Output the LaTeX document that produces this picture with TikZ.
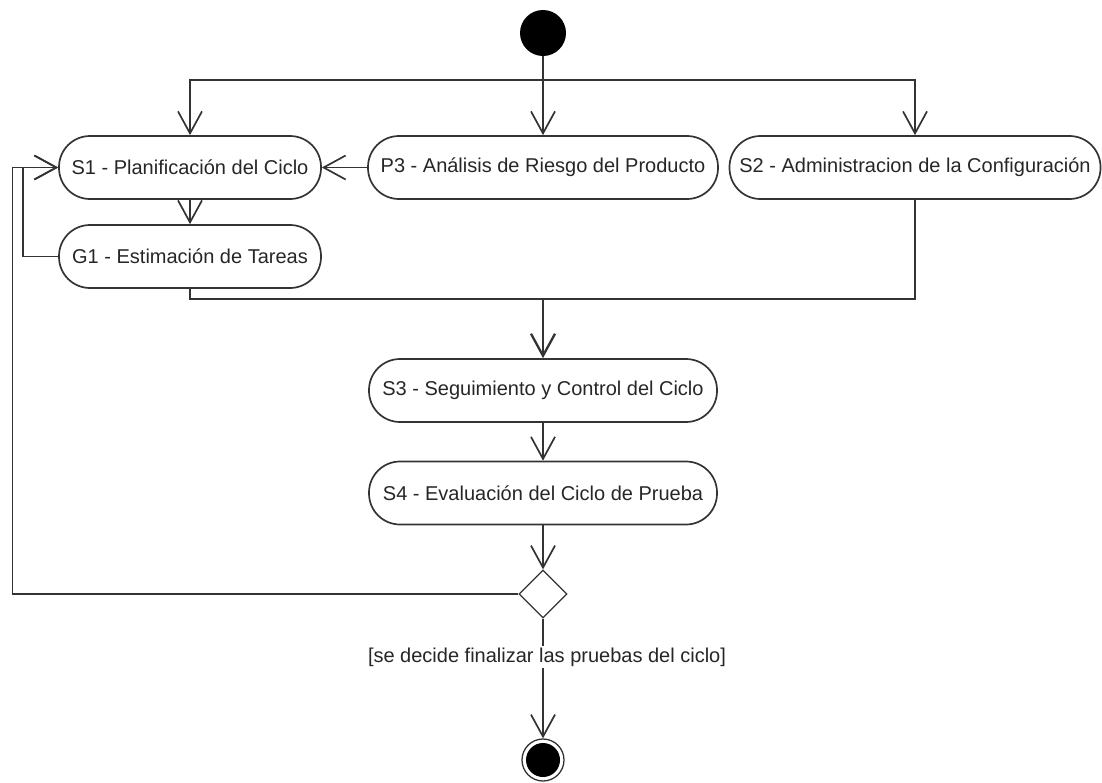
\documentclass[tikz,border=0pt]{standalone}
\usepackage{fontspec}
\setmainfont{Liberation Sans}
\usetikzlibrary{arrows.meta,shapes.geometric}
\begin{document}
\begin{tikzpicture}[x=1pt,y=-1pt,
  ink/.style={draw=black!80, line width=1.7pt},
  act/.style={ink, rectangle, rounded corners=31pt, minimum height=63pt,
    inner sep=0pt, font=\fontsize{20}{24}\selectfont, text=black!85},
  flow/.style={ink, -{Straight Barb[length=22pt,width=24pt]}},
  guard/.style={fill=white, inner sep=2pt, font=\fontsize{20}{24}\selectfont, text=black!85}
  ]
\useasboundingbox (0,0) rectangle (1102,782);

% initial and final states
\node[circle, fill=black, minimum size=46pt, inner sep=0pt] (start) at (543,33) {};
\node[circle, ink, line width=1.3pt, minimum size=42pt, inner sep=0pt] (stop) at (543,760) {};
\fill[black] (stop.center) circle[radius=17pt];

% activities
\node[act, minimum width=262pt] (s1) at (190,167.5) {S1 - Planificación del Ciclo};
\node[act, minimum width=350pt] (p3) at (543,167.5) {P3 - Análisis de Riesgo del Producto};
\node[act, minimum width=371pt] (s2) at (915,167.5) {S2 - Administracion de la Configuración};
\node[act, minimum width=262pt] (g1) at (190,256.5) {G1 - Estimación de Tareas};
\node[act, minimum width=348pt] (s3) at (543,390.5) {S3 - Seguimiento y Control del Ciclo};
\node[act, minimum width=348pt] (s4) at (543,493) {S4 - Evaluación del Ciclo de Prueba};

% decision
\node[diamond, ink, line width=1.3pt, minimum width=48pt, minimum height=48pt,
  inner sep=0pt] (dec) at (543,594) {};

% fork from the initial state
\coordinate (fork) at (543,80);
\draw[ink] (start) -- (fork);
\draw[flow] (fork) -| (s1.north);
\draw[flow] (fork) -- (p3.north);
\draw[flow] (fork) -| (s2.north);

% planning group
\draw[flow] (p3.west) -- (s1.east);
\draw[flow] (s1.south) -- (g1.north);
\draw[flow] (g1.west) -- ++(-35,0) |- (s1.west);

% join into follow-up
\coordinate (join) at (543,299);
\draw[ink] (g1.south) |- (join);
\draw[ink] (s2.south) |- (join);
\draw[flow, line width=2.3pt] (join) -- (s3.north);

\draw[flow] (s3.south) -- (s4.north);
\draw[flow] (s4.south) -- (dec.north);

% loop back and exit
\draw[flow] (dec.west) -- ++(-506,0) |- (s1.west);
\draw[flow] (dec.south) -- node[guard, pos=0.32, xshift=4pt]
  {[se decide finalizar las pruebas del ciclo]} (stop.north);
\end{tikzpicture}
\end{document}
